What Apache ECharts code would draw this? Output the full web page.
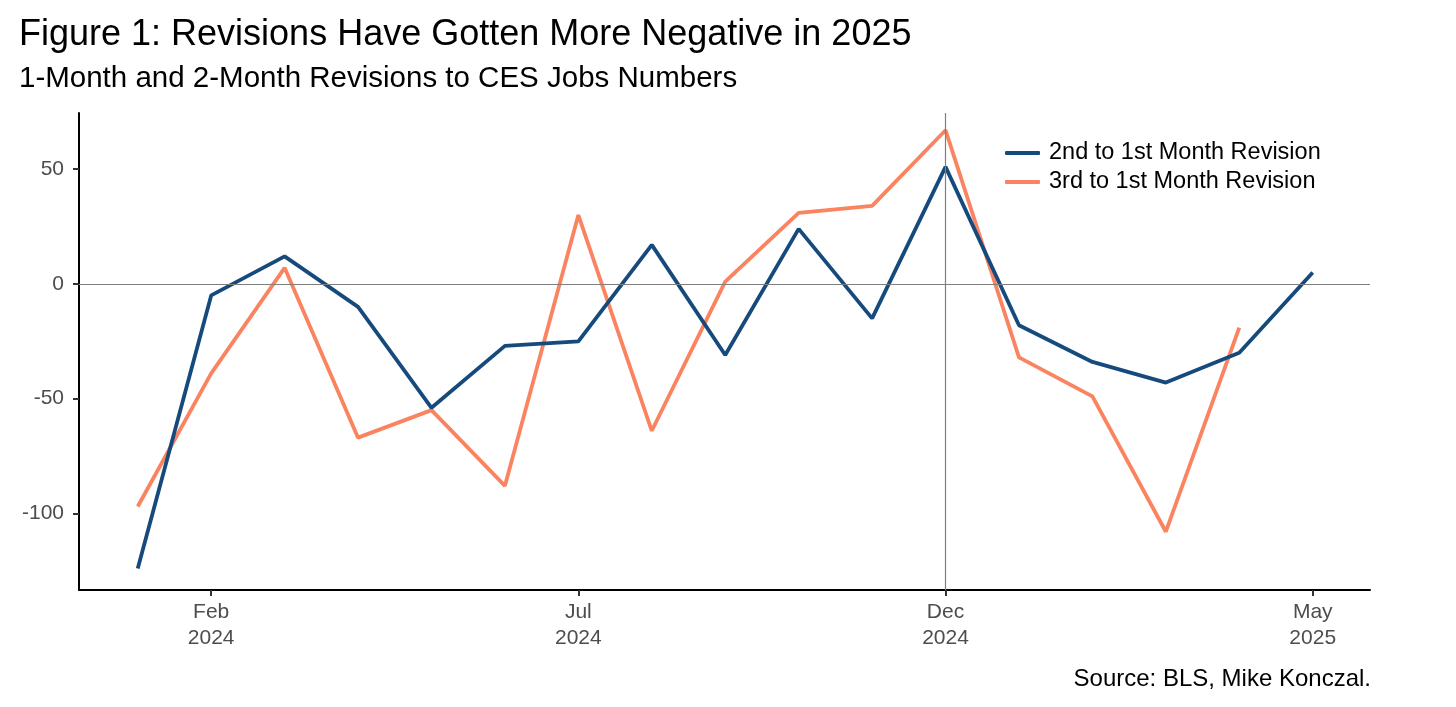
<!DOCTYPE html>
<html><head><meta charset="utf-8">
<script src="https://cdn.jsdelivr.net/npm/echarts@6/dist/echarts.min.js"></script>
<style>html,body{margin:0;padding:0;background:#fff}#c{width:1456px;height:707px}</style>
</head><body><div id="c"></div>
<script>
const months = ['Jan\n2024','Feb\n2024','Mar\n2024','Apr\n2024','May\n2024','Jun\n2024','Jul\n2024','Aug\n2024','Sep\n2024','Oct\n2024','Nov\n2024','Dec\n2024','Jan\n2025','Feb\n2025','Mar\n2025','Apr\n2025','May\n2025'];
const labeledMonths = ['Feb\n2024','Jul\n2024','Dec\n2024','May\n2025'];
const rev2to1 = [-124,-5,12,-10,-54,-27,-25,17,-31,24,-15,51,-18,-34,-43,-30,5];
const rev3to1 = [-97,-39,7,-67,-55,-88,30,-64,1,31,34,67,-32,-49,-108,-19];
const yTicks = [-100,-50,0,50];
const seriesNames = ['2nd to 1st Month Revision','3rd to 1st Month Revision'];

const toPairs = arr => arr.map((v,i)=>[i,v]);
const labeledIdx = labeledMonths.map(m=>months.indexOf(m));
const font = 'Liberation Sans, Arial, sans-serif';

const chart = echarts.init(document.getElementById('c'));
chart.setOption({
  animation:false,
  backgroundColor:'#fff',
  title:[
    {text:'Figure 1: Revisions Have Gotten More Negative in 2025',left:14,top:12,textStyle:{fontFamily:font,fontSize:36,fontWeight:'normal',color:'#000'}},
    {text:'1-Month and 2-Month Revisions to CES Jobs Numbers',left:14,top:59,textStyle:{fontFamily:font,fontSize:29.5,fontWeight:'normal',color:'#000'}},
    {text:'Source: BLS, Mike Konczal.',right:80,top:662,textStyle:{fontFamily:font,fontSize:24,fontWeight:'normal',color:'#000'}}
  ],
  legend:{
    left:1000,top:136,orient:'vertical',itemGap:5,itemWidth:35,itemHeight:4,
    icon:'roundRect',
    textStyle:{fontFamily:font,fontSize:23.5,color:'#000',padding:[0,0,0,4]},
    data:seriesNames
  },
  grid:{left:79,right:86,top:113,bottom:117,containLabel:false},
  xAxis:{
    type:'value',min:-0.8,max:16.78,
    axisLine:{show:true,onZero:false,lineStyle:{color:'#000',width:2}},
    axisTick:{show:true,length:6,customValues:labeledIdx,lineStyle:{color:'#333',width:2}},
    axisLabel:{customValues:labeledIdx,formatter:v=>months[Math.round(v)],fontFamily:font,fontSize:21,color:'#4d4d4d',lineHeight:26,margin:9},
    splitLine:{show:false}
  },
  yAxis:{
    type:'value',min:-133.4,max:74.5,
    axisLine:{show:true,onZero:false,lineStyle:{color:'#000',width:2}},
    axisTick:{show:true,length:6,customValues:yTicks,lineStyle:{color:'#333',width:2}},
    axisLabel:{customValues:yTicks,fontFamily:font,fontSize:21,color:'#4d4d4d',margin:15},
    splitLine:{show:false}
  },
  series:[
    {name:seriesNames[0],type:'line',data:toPairs(rev2to1),showSymbol:false,symbol:'none',
     lineStyle:{color:'#174A7C',width:3.8},itemStyle:{color:'#174A7C'},z:3,
     markLine:{silent:true,symbol:'none',label:{show:false},lineStyle:{color:'#7f7f7f',width:1.2,type:'solid'},
       data:[{yAxis:0},{xAxis:months.indexOf('Dec\n2024')}]}},
    {name:seriesNames[1],type:'line',data:toPairs(rev3to1),showSymbol:false,symbol:'none',
     lineStyle:{color:'#FA8360',width:3.8},itemStyle:{color:'#FA8360'},z:2}
  ]
});
</script></body></html>
